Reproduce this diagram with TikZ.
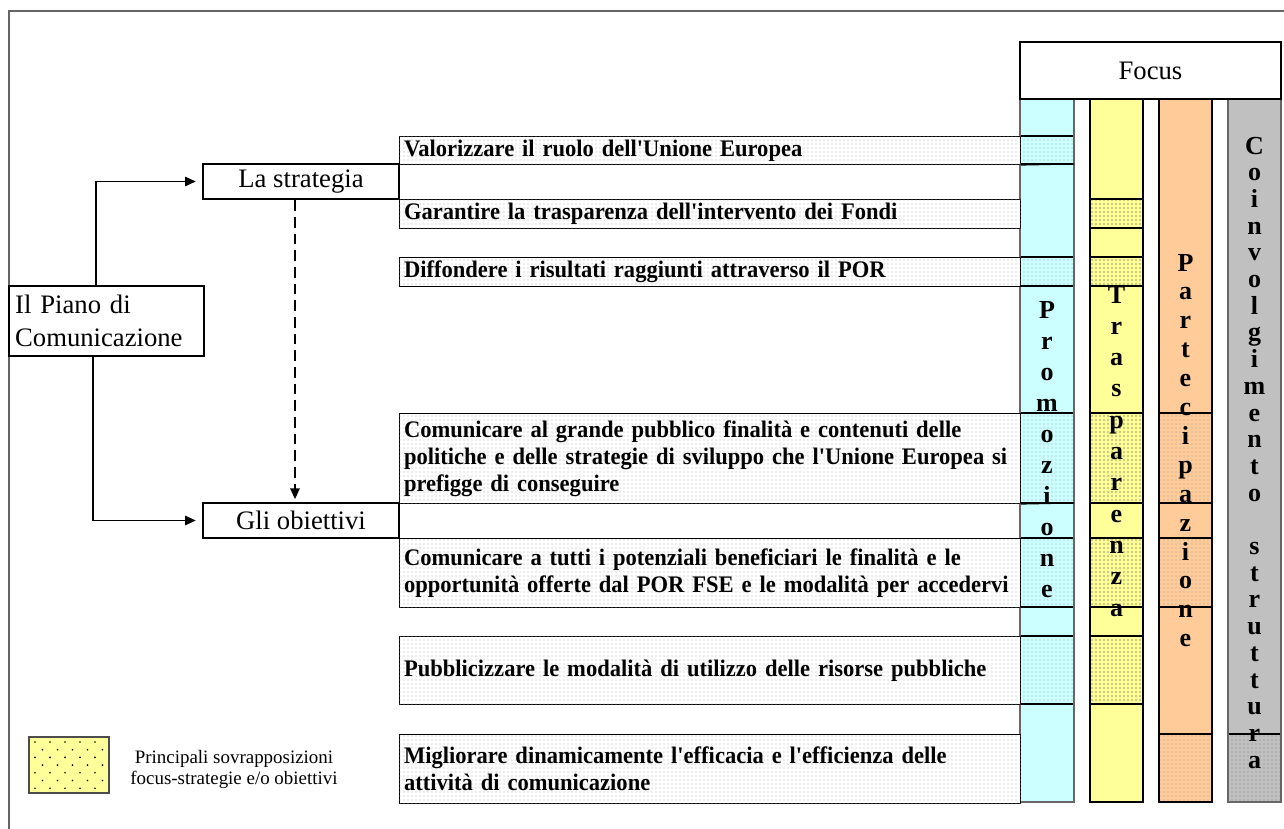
\documentclass[tikz,border=0pt]{standalone}
\usepackage{fontspec}
\setmainfont{Liberation Serif}[Ligatures=TeXOff]
\newfontfamily\goalfamily{Liberation Serif}[Ligatures=TeXOff, FakeStretch=0.95]
\usetikzlibrary{arrows.meta,patterns,positioning}

\definecolor{promo}{HTML}{CCFFFF}
\definecolor{trasp}{HTML}{FFFF99}
\definecolor{parte}{HTML}{FFCC99}
\definecolor{coinv}{HTML}{C0C0C0}

\newcommand{\boxfont}{\fontsize{20}{24.75}\selectfont}
\newcommand{\goalfont}{\goalfamily\fontsize{17.8}{20.25}\selectfont\bfseries}
\newcommand{\letterfont}{\fontsize{19.5}{19.5}\selectfont\bfseries}
\newcommand{\legendfont}{\fontsize{14.2}{15.75}\selectfont}

% 竖排字母
\newcommand{\vword}[5]{%
  \foreach \ch [count=\k from 0] in {#5}
    \node[vletter] (#1\k) at (#2,#3+\k*#4) {\ch};}

\tikzset{
  mainbox/.style={draw, line width=1.8pt, fill=white, font=\boxfont},
  goal/.style={draw, line width=0.8pt, fill=white,
    postaction={pattern=dots, pattern color=black!30},
    anchor=north west, minimum width=465.75pt, text width=459pt,
    inner xsep=3pt, inner ysep=0pt, align=left, font=\goalfont},
  cell/.style={draw, line width=0.8pt, pattern=dots, pattern color=#1},
  cell/.default=black!40,
  arr/.style={line width=1.2pt, -{Triangle[length=8pt,width=7pt]}, shorten >=4.5pt},
  vletter/.style={anchor=base, inner sep=0pt, font=\letterfont},
}

\begin{document}
\begin{tikzpicture}[x=0.75pt,y=-0.75pt]
        \useasboundingbox (0,0) rectangle (1284,828);
        \clip (0,0) rectangle (1284,828);

        % 外框
        \draw[black!60, line width=0.8pt] (9,11) rectangle (1300,845);

        % 四个 focus 列
        \fill[promo] (1020,99) rectangle (1074,802);
        \fill[trasp] (1090,99) rectangle (1143,802);
        \fill[parte] (1159,99) rectangle (1212,802);
        \fill[coinv] (1228,99) rectangle (1281,802);

        % 重叠部分
        \foreach \t/\b in {136/164, 257/286, 413/503, 538/607, 636/704}
            \path[cell=black!35] (1020,\t) rectangle (1074,\b);
        \foreach \t/\b in {199/228, 257/286, 413/503, 538/607, 636/704}
            \path[cell=black!85] (1090,\t) rectangle (1143,\b);
        \foreach \t/\b in {413/503, 538/607, 734/802}
            \path[cell=black!40] (1159,\t) rectangle (1212,\b);
        \path[cell=black!50] (1228,734) rectangle (1281,802);

        \draw[black!60, line width=0.8pt] (1020,99) rectangle (1074,802);
        \draw[line width=0.8pt] (1090,99) rectangle (1143,802);
        \draw[line width=0.8pt] (1159,99) rectangle (1212,802);
        \draw[black!60, line width=0.8pt] (1228,99) rectangle (1281,802);

        \node[mainbox, minimum width=195.75pt, minimum height=42.75pt] (focus) at (1150.5,70.5) {Focus};

        % 策略与目标
        \node[goal, minimum height=21pt] (valorizzare) at (399,136)
            {Valorizzare il ruolo dell'Unione Europea};
        \node[goal, minimum height=21.75pt] (garantire) at (399,199)
            {Garantire la trasparenza dell'intervento dei Fondi};
        \node[goal, minimum height=21.75pt] (diffondere) at (399,257)
            {Diffondere i risultati raggiunti attraverso il POR};
        \node[goal, minimum height=67.5pt] (pubblico) at (399,413)
            {\mbox{Comunicare al grande pubblico finalità e contenuti delle}\\
             \mbox{politiche e delle strategie di sviluppo che l'Unione Europea si}\\
             \mbox{prefigge di conseguire}};
        \node[goal, minimum height=51.75pt] (beneficiari) at (399,538)
            {\mbox{Comunicare a tutti i potenziali beneficiari le finalità e le}\\
             \mbox{opportunità offerte dal POR FSE e le modalità per accedervi}};
        \node[goal, minimum height=51pt] (risorse) at (399,636)
            {Pubblicizzare le modalità di utilizzo delle risorse pubbliche};
        \node[goal, minimum height=51.75pt] (efficacia) at (399,734)
            {\mbox{Migliorare dinamicamente l'efficacia e l'efficienza delle}\\
             \mbox{attività di comunicazione}};
        \draw[line width=0.8pt] (valorizzare.south east) -- (1074,164);
        \draw[line width=0.8pt] (pubblico.south east) -- (1074,503);

        % 左侧方框和箭头
        \node[mainbox, minimum width=146.25pt, minimum height=52.5pt, text width=137pt,
              inner xsep=4.5pt, align=left] (piano) at (106.5,321) {Il Piano di\\Comunicazione};
        \node[mainbox, minimum width=147pt, minimum height=26.25pt] (strategia) at (301,181.5) {La strategia};
        \node[mainbox, minimum width=147pt, minimum height=26.25pt] (obiettivi) at (301,520.5) {Gli obiettivi};

        \draw[arr] ([xshift=-7.9pt]piano.north) |- (strategia.west);
        \draw[arr] ([xshift=-10.1pt]piano.south) |- (obiettivi.west);
        \draw[arr, shorten >=2pt, dash pattern=on 8pt off 4.5pt]
            ([xshift=-4.5pt]strategia.south) -- ([xshift=-4.5pt]obiettivi.north);

        % 竖排标题
        \vword{promo}{1047}{318}{31}{P,r,o,m,o,z,i,o,n,e}
        \vword{trasp}{1116.5}{303}{31.3}{T,r,a,s,p,a,r,e,n,z,a}
        \vword{parte}{1185.5}{271}{28.9}{P,a,r,t,e,c,i,p,a,z,i,o,n,e}
        \vword{coinv}{1254.5}{154}{26.7}{C,o,i,n,v,o,l,g,i,m,e,n,t,o,{},s,t,r,u,t,t,u,r,a}

        % 图例
        \path[draw=black!70, fill=trasp, line width=0.8pt] (29,737) rectangle (109,793);
        \foreach \r in {0,...,6}
            \foreach \c in {0,...,4}
                \fill ({35+\c*15+mod(\r,2)*7.5}, {742+\r*7.7}) circle (0.7pt);
        \node[align=center, font=\legendfont] (legenda) at (234,769)
            {Principali sovrapposizioni\\focus-strategie e/o obiettivi};
\end{tikzpicture}
\end{document}
